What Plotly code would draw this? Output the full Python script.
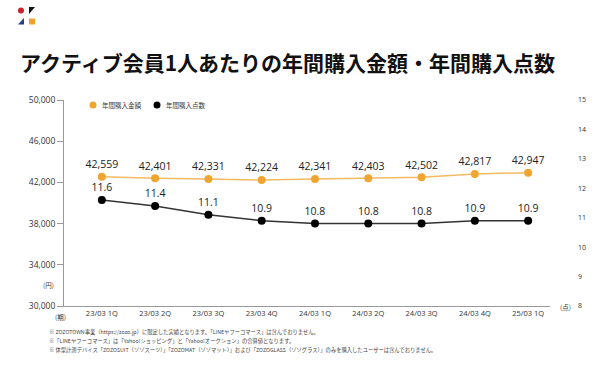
import plotly.graph_objects as go

categories = ["23/03 1Q", "23/03 2Q", "23/03 3Q", "23/03 4Q", "24/03 1Q",
              "24/03 2Q", "24/03 3Q", "24/03 4Q", "25/03 1Q"]
amount = [42559, 42401, 42331, 42224, 42341, 42403, 42502, 42817, 42947]
items = [11.6, 11.4, 11.1, 10.9, 10.8, 10.8, 10.8, 10.9, 10.9]
left_ticks = [30000, 34000, 38000, 42000, 46000, 50000]
right_ticks = [8, 9, 10, 11, 12, 13, 14, 15]
series_names = ["年間購入金額", "年間購入点数"]

title = "アクティブ会員1人あたりの年間購入金額・年間購入点数"
notes = [
    "※ ZOZOTOWN事業（https://zozo.jp）に限定した実績となります。「LINEヤフーコマース」は含んでおりません。",
    "※「LINEヤフーコマース」は「Yahoo!ショッピング」と「Yahoo!オークション」の合算値となります。",
    "※ 体型計測デバイス「ZOZOSUIT（ゾゾスーツ）」「ZOZOMAT（ゾゾマット）」および「ZOZOGLASS（ゾゾグラス）」のみを購入したユーザーは含んでおりません。",
]

ORANGE = "#F0A530"
ORANGE_LINE = "#F3BA62"
FONT = "Open Sans"
JP = "Noto Sans CJK JP"

W, H = 600, 365
L, R, T, B = 64, 50, 100, 59
PW, PH = W - L - R, H - T - B


def px(x):
    return (x - L) / PW


def py(y):
    return (H - B - y) / PH


fig = go.Figure()
fig.add_trace(go.Scatter(
    x=categories, y=amount, name=series_names[0], mode="lines+markers+text",
    line=dict(color=ORANGE_LINE, width=1.5),
    marker=dict(color=ORANGE, size=8),
    text=[f"{v:,}" for v in amount], textposition="top center",
    textfont=dict(family=FONT, size=10.5, color="#222"),
    yaxis="y", cliponaxis=False, showlegend=False,
))
fig.add_trace(go.Scatter(
    x=categories, y=items, name=series_names[1], mode="lines+markers+text",
    line=dict(color="#333333", width=1.5),
    marker=dict(color="#000000", size=8),
    text=[f"{v:.1f}" for v in items], textposition="top center",
    textfont=dict(family=FONT, size=10.5, color="#222"),
    yaxis="y2", cliponaxis=False, showlegend=False,
))

fig.update_layout(
    width=W, height=H,
    margin=dict(l=L, r=R, t=T, b=B, autoexpand=False),
    paper_bgcolor="white", plot_bgcolor="white",
    xaxis=dict(range=[-0.71, 8.41], showgrid=False, showline=True, linecolor="#999",
               linewidth=1, ticks="", tickfont=dict(family=FONT, size=7.5, color="#333"),
               zeroline=False),
    yaxis=dict(range=[30000, 50000], tickvals=left_ticks,
               ticktext=[f"{v:,}" for v in left_ticks],
               showgrid=False, showline=True, linecolor="#999", linewidth=1,
               ticks="outside", ticklen=6, tickcolor="#999",
               tickfont=dict(family=FONT, size=8.5, color="#333"), zeroline=False),
    yaxis2=dict(range=[8, 15], tickvals=right_ticks, overlaying="y", side="right",
                showgrid=False, showline=False, ticks="", zeroline=False,
                ticklabelstandoff=27,
                tickfont=dict(family=FONT, size=7, color="#333")),
)

ann = []
ann.append(dict(text=f"<b>{title}</b>", x=px(18), y=py(62), xref="paper", yref="paper",
                xanchor="left", yanchor="middle", showarrow=False,
                font=dict(family=JP, size=21, color="#111")))
for txt, ax, ay in [("(円)", 48.5, 285), ("(期)", 60, 317), ("(点)", 565, 307)]:
    ann.append(dict(text=txt, x=px(ax), y=py(ay), xref="paper", yref="paper",
                    xanchor="center", yanchor="middle", showarrow=False,
                    font=dict(family=JP, size=6.5, color="#333")))
for i, n in enumerate(notes):
    ann.append(dict(text=n, x=px(47), y=py(332 + 9 * i), xref="paper", yref="paper",
                    xanchor="left", yanchor="middle", showarrow=False,
                    font=dict(family=JP, size=5.3, color="#444")))
# legend (manual)
legend_x = [93, 157]
legend_colors = [ORANGE, "#000000"]
for lx, name in zip(legend_x, series_names):
    ann.append(dict(text=name, x=px(lx + 7), y=py(105), xref="paper", yref="paper",
                    xanchor="left", yanchor="middle", showarrow=False,
                    font=dict(family=JP, size=6.5, color="#333")))
fig.update_layout(annotations=ann)


def rect(x0, y0, x1, y1, color):
    return dict(type="rect", xref="paper", yref="paper", x0=px(x0), x1=px(x1),
                y0=py(y1), y1=py(y0), fillcolor=color, line=dict(width=0))


shapes = [
    dict(type="circle", xref="paper", yref="paper", x0=px(18), x1=px(24),
         y0=py(13.5), y1=py(7.5), fillcolor="#D0202E", line=dict(width=0)),
    dict(type="path", xref="paper", yref="paper",
         path=f"M {px(29)},{py(7)} L {px(35)},{py(7)} L {px(29)},{py(14)} Z",
         fillcolor="#111111", line=dict(width=0)),
    dict(type="path", xref="paper", yref="paper",
         path=f"M {px(24)},{py(18)} L {px(24)},{py(24.5)} L {px(18)},{py(24.5)} Z",
         fillcolor="#1F3E8C", line=dict(width=0)),
    rect(29, 18.5, 35, 24.5, "#F2A22C"),
]
for lx, c in zip(legend_x, legend_colors):
    shapes.append(dict(type="circle", xref="paper", yref="paper",
                       x0=px(lx - 3.5), x1=px(lx + 3.5), y0=py(108.5), y1=py(101.5),
                       fillcolor=c, line=dict(width=0)))
fig.update_layout(shapes=shapes)

fig.write_html("out.html", config={"displayModeBar": False},
               post_script="document.body.style.margin='0';document.body.style.padding='0';")
